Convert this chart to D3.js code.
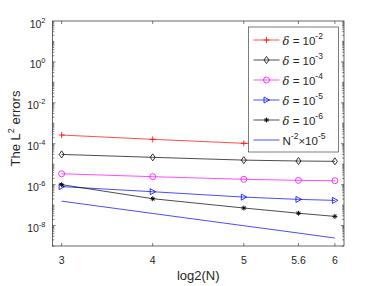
<!DOCTYPE html>
<html>
<head>
<meta charset="utf-8">
<script src="https://cdn.jsdelivr.net/npm/d3@7"></script>
<style>
  body { margin: 0; background: #fff; }
  text { font-family: "Liberation Sans", Arial, sans-serif; fill: #262626; }
</style>
</head>
<body>
<svg id="paper"></svg>
<script>
// x positions (log2 N)
const levels = [3, 4, 5, 5.6, 6];
const xTicks = [3, 4, 5, 5.6, 6];

// errors
const err2 = [2.66e-4, 1.64e-4, 1.05e-4, 8.8e-5, 7.6e-5];
const err3 = [3.0e-5, 2.16e-5, 1.58e-5, 1.43e-5, 1.38e-5];
const err4 = [3.4e-6, 2.45e-6, 1.82e-6, 1.62e-6, 1.55e-6];
const err5 = [8.0e-7, 4.5e-7, 2.46e-7, 1.9e-7, 1.7e-7];
const err6 = [1.0e-6, 2.05e-7, 7.2e-8, 4.0e-8, 2.8e-8];
const refLine = [1.56e-7, 3.9e-8, 9.8e-9, 4.3e-9, 2.44e-9];

const yTickExp = [2, 0, -2, -4, -6, -8];

const series = [
    {vals: err2, color: "#ff0000", marker: "plus", exp: "-2"},
    {vals: err3, color: "#000000", marker: "diamond", exp: "-3"},
    {vals: err4, color: "#ff00ff", marker: "circle", exp: "-4"},
    {vals: err5, color: "#0000ff", marker: "triangle", exp: "-5"},
    {vals: err6, color: "#000000", marker: "star", exp: "-6"},
    {vals: refLine, color: "#0000ff", marker: null, exp: null}
];

// set the dimensions of the axes box
var margin = {top: 21, right: 38, bottom: 40, left: 52.5},
    W = 382, H = 286,
    width = W - margin.left - margin.right,
    height = H - margin.top - margin.bottom;

var svg = d3.select("#paper").attr("width", W).attr("height", H),
    g = svg.append("g").attr("transform", "translate(" + margin.left + "," + margin.top + ")");

var x = d3.scaleLinear().domain([2.9, 6.1]).range([0, width]);
var y = d3.scaleLog().domain([1e-9, 1e2]).range([height, 0]);

var axisColor = "#262626";

// data lines
var line = d3.line().x((d, i) => x(levels[i])).y(d => y(d));

series.forEach(s => {
    g.append("path")
        .datum(s.vals)
        .attr("d", line)
        .attr("fill", "none")
        .attr("stroke", s.color)
        .attr("stroke-width", 0.7);
});

function drawMarker(sel, type, color) {
    var r = 3;
    if (type === "plus") {
        sel.append("path").attr("d", `M${-r},0H${r}M0,${-r}V${r}`)
            .attr("stroke", color).attr("stroke-width", 0.8).attr("fill", "none");
    } else if (type === "diamond") {
        sel.append("path").attr("d", `M0,${-r - 0.5}L${r - 0.5},0L0,${r + 0.5}L${-r + 0.5},0Z`)
            .attr("stroke", color).attr("stroke-width", 0.8).attr("fill", "none");
    } else if (type === "circle") {
        sel.append("circle").attr("r", r)
            .attr("stroke", color).attr("stroke-width", 0.8).attr("fill", "none");
    } else if (type === "triangle") {
        sel.append("path").attr("d", `M${r},0L${-r + 0.5},${-r}L${-r + 0.5},${r}Z`)
            .attr("stroke", color).attr("stroke-width", 0.8).attr("fill", "none");
    } else if (type === "star") {
        var a = 2.5;
        sel.append("path")
            .attr("d", `M${-a},0H${a}M0,${-a}V${a}M${-a * 0.7},${-a * 0.7}L${a * 0.7},${a * 0.7}M${-a * 0.7},${a * 0.7}L${a * 0.7},${-a * 0.7}`)
            .attr("stroke", color).attr("stroke-width", 0.9).attr("fill", "none");
    }
}

series.forEach(s => {
    if (!s.marker) return;
    g.selectAll(null)
        .data(s.vals)
        .enter().append("g")
        .attr("transform", (d, i) => "translate(" + x(levels[i]) + "," + y(d) + ")")
        .each(function () { drawMarker(d3.select(this), s.marker, s.color); });
});

// axes box with inward ticks
var ticksG = g.append("g").attr("stroke", axisColor).attr("stroke-width", 0.6);
xTicks.forEach(t => {
    ticksG.append("line").attr("x1", x(t)).attr("x2", x(t)).attr("y1", height).attr("y2", height - 3);
    ticksG.append("line").attr("x1", x(t)).attr("x2", x(t)).attr("y1", 0).attr("y2", 3);
});
for (var e = -9; e < 2; e++) {
    for (var m = 1; m < 10; m++) {
        var v = m * Math.pow(10, e);
        var len = (m === 1 && e % 2 === 0) ? 3 : 1.8;
        ticksG.append("line").attr("x1", 0).attr("x2", len).attr("y1", y(v)).attr("y2", y(v));
        ticksG.append("line").attr("x1", width).attr("x2", width - len).attr("y1", y(v)).attr("y2", y(v));
    }
}
g.append("rect").attr("width", width).attr("height", height)
    .attr("fill", "none").attr("stroke", axisColor).attr("stroke-width", 0.7);

// tick labels
g.selectAll(".xl").data(xTicks).enter().append("text")
    .attr("x", d => x(d)).attr("y", height + 18)
    .attr("text-anchor", "middle").style("font-size", "10.5px")
    .text(d => d);

var yl = g.selectAll(".yl").data(yTickExp).enter().append("text")
    .attr("x", -7).attr("y", d => y(Math.pow(10, d)) + 6.5)
    .attr("text-anchor", "end").style("font-size", "10.5px");
yl.append("tspan").text("10");
yl.append("tspan").attr("dy", -5).style("font-size", "7.5px").text(d => d);

// axis titles
g.append("text").attr("x", width / 2).attr("y", height + 34)
    .attr("text-anchor", "middle").style("font-size", "13px").text("log2(N)");

var yt = svg.append("text")
    .attr("transform", "translate(20," + (margin.top + height / 2 - 5) + ") rotate(-90)")
    .attr("text-anchor", "middle").style("font-size", "13px");
yt.append("tspan").text("The L");
yt.append("tspan").attr("dy", -6).style("font-size", "9px").text("2");
yt.append("tspan").attr("dy", 6).text(" errors");

// legend
var lg = svg.append("g").attr("transform", "translate(248.5,27)");
lg.append("rect").attr("width", 90).attr("height", 125)
    .attr("fill", "#fff").attr("stroke", axisColor).attr("stroke-width", 0.6);

series.forEach((s, i) => {
    var ry = 13 + i * 20;
    var row = lg.append("g").attr("transform", "translate(0," + ry + ")");
    row.append("line").attr("x1", 5).attr("x2", 31).attr("y1", 0).attr("y2", 0)
        .attr("stroke", s.color).attr("stroke-width", 0.7);
    if (s.marker) {
        drawMarker(row.append("g").attr("transform", "translate(18,0)"), s.marker, s.color);
    }
    var t = row.append("text").attr("x", 34).attr("y", 4.5).style("font-size", "11.5px");
    if (s.exp) {
        t.append("tspan").style("font-style", "italic").style("font-family", "'DejaVu Serif', serif").text("δ");
        t.append("tspan").text(" = 10");
        t.append("tspan").attr("dy", -6).style("font-size", "8.5px").text(s.exp);
    } else {
        t.append("tspan").text("N");
        t.append("tspan").attr("dy", -6).style("font-size", "8.5px").text("-2");
        t.append("tspan").attr("dy", 6).text("×10");
        t.append("tspan").attr("dy", -6).style("font-size", "8.5px").text("-5");
    }
});
</script>
</body>
</html>
